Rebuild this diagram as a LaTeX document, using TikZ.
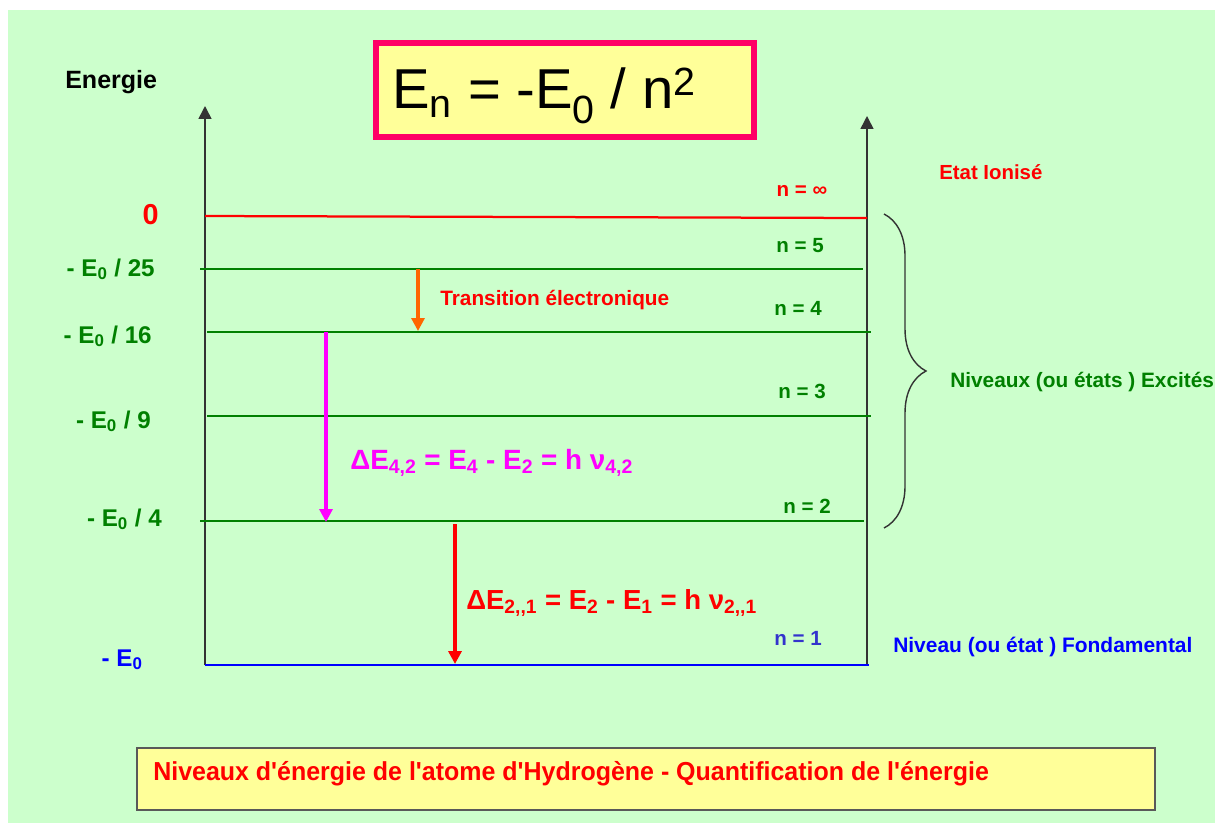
\documentclass[tikz,border=0pt]{standalone}
\usepackage{fontspec}
\setmainfont{Liberation Sans}
\newfontfamily\etroite[FakeStretch=0.96]{Liberation Sans}
\usetikzlibrary{arrows.meta,decorations.pathreplacing}
\definecolor{fondvert}{HTML}{CCFFCC}
\definecolor{jaune}{HTML}{FFFF99}
\definecolor{rose}{HTML}{FF0066}
\definecolor{vert}{HTML}{008000}
\definecolor{bleu}{HTML}{0000FF}
\definecolor{bleuclair}{HTML}{3333CC}
\definecolor{rouge}{HTML}{FF0000}
\definecolor{orangevif}{HTML}{FF6600}
\definecolor{fuchsia}{HTML}{FF00FF}
\definecolor{gristrait}{HTML}{333333}
\newcommand{\taille}[1]{\fontsize{#1}{#1}\selectfont}

\begin{document}
\begin{tikzpicture}[x=0.025cm,y=-0.025cm,
      niv/.style={line width=2pt,vert},
      axe/.style={-{Triangle[length=3.2mm,width=3.2mm]},line width=1.1pt,gristrait},
      fl/.style={-{Triangle[length=3.2mm,width=3.2mm]},line width=2.2pt},
      lbl/.style={inner sep=0pt,font=\bfseries\taille{17.2}},
      nlbl/.style={inner sep=0pt,anchor=base,font=\bfseries\taille{14.6}}]
    \fill[white] (0,0) rectangle (1215,823);
    \fill[fondvert] (8,10) rectangle (1215,823);
    % formule
    \node[draw=rose,fill=jaune,line width=4.3pt,minimum width=9.45cm,minimum height=2.35cm,
          inner sep=0pt] (cadre) at (565,90) {};
    \node[inner sep=0pt,anchor=base west,font=\taille{40}] (formule) at (392,108)
         {E\textsubscript{n} = -E\textsubscript{0} / n\textsuperscript{2}};
    \node[lbl,anchor=base west,font=\bfseries\taille{17.8}] (energie) at (65,88) {Energie};
    % axes
    \coordinate (ga) at (205,665);
    \coordinate (gh) at (205,106);
    \coordinate (da) at (867,665);
    \coordinate (dh) at (867,116);
    \draw[axe] (ga) -- (gh);
    \draw[axe] (da) -- (dh);
    % niveaux
    \draw[line width=1.6pt,rouge] (205,216) -- (867,218);
    \draw[niv] (200,269) -- (863,269);
    \draw[niv] (207,332) -- (871,332);
    \draw[niv] (207,416) -- (871,416);
    \draw[niv] (200,521) -- (864,521);
    \draw[line width=2pt,bleu] (205,665) -- (869,665);
    % valeurs
    \node[lbl,anchor=base east,rouge,font=\bfseries\taille{20.5}] (e0) at (159,224) {0};
    \node[lbl,anchor=base east,vert] (e25) at (155,276) {- E\textsubscript{0} / 25};
    \node[lbl,anchor=base east,vert] (e16) at (152,343) {- E\textsubscript{0} / 16};
    \node[lbl,anchor=base east,vert] (e9) at (151,428) {- E\textsubscript{0} / 9};
    \node[lbl,anchor=base east,vert] (e4) at (162,526) {- E\textsubscript{0} / 4};
    \node[lbl,anchor=base east,bleu] (e1) at (143,666) {- E\textsubscript{0}};
    % nombres quantiques
    \node[nlbl,rouge] (ninf) at (802,196) {n = ∞};
    \node[nlbl,vert] (n5) at (800,252) {n = 5};
    \node[nlbl,vert] (n4) at (798,315) {n = 4};
    \node[nlbl,vert] (n3) at (802,398) {n = 3};
    \node[nlbl,vert] (n2) at (807,513) {n = 2};
    \node[nlbl,bleuclair] (n1) at (798,645) {n = 1};
    % etats
    \node[lbl,anchor=base west,rouge,font=\bfseries\taille{14.5}] (ionise) at (939,179) {Etat Ionisé};
    \coordinate (bh) at (884,214);
    \coordinate (bb) at (884,528);
    \draw[gristrait,line width=1pt,decorate,decoration={brace,amplitude=1.05cm}] (bh) -- (bb);
    \node[lbl,anchor=base west,vert,font=\bfseries\taille{14.8}] (excites) at (950,387)
         {Niveaux (ou états ) Excités};
    \node[lbl,anchor=base west,bleu,font=\bfseries\taille{14.9}] (fond) at (893,652)
         {Niveau (ou état ) Fondamental};
    % transitions
    \coordinate (t5) at (418,269);
    \coordinate (t4) at (418,331);
    \draw[fl,orangevif] (t5) -- (t4);
    \node[lbl,anchor=base west,rouge,font=\bfseries\taille{14.8}] (trans) at (440,305)
         {Transition électronique};
    \coordinate (m4) at (326,332);
    \coordinate (m2) at (326,522);
    \draw[fl,fuchsia] (m4) -- (m2);
    \node[lbl,anchor=base west,fuchsia,font=\bfseries\taille{19.8}] (de42) at (350,469)
         {ΔE\textsubscript{4,2} = E\textsubscript{4} - E\textsubscript{2} = h ν\textsubscript{4,2}};
    \coordinate (r2) at (455,524);
    \coordinate (r1) at (455,664);
    \draw[fl,rouge,line width=2.6pt] (r2) -- (r1);
    \node[lbl,anchor=base west,rouge,font=\bfseries\taille{19.6}] (de21) at (466,609)
         {ΔE\textsubscript{2,{},1} = E\textsubscript{2} - E\textsubscript{1} = h ν\textsubscript{2,{},1}};
    % legende
    \node[draw=black!65,fill=jaune,line width=1.4pt,minimum width=25.45cm,minimum height=1.55cm,
          inner sep=0pt] (legende) at (646,779) {};
    \node[inner sep=0pt,anchor=base west,rouge,font=\etroite\bfseries\taille{18.5}] (titre) at (153,780)
         {Niveaux d'énergie de l'atome d'Hydrogène - Quantification de l'énergie};
\end{tikzpicture}
\end{document}
